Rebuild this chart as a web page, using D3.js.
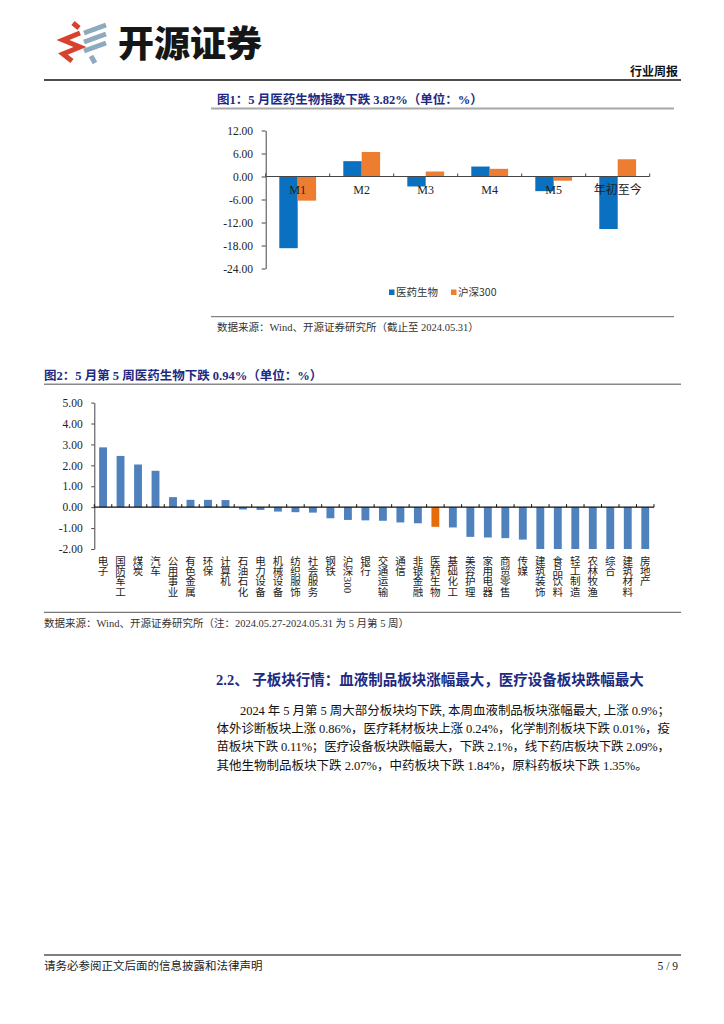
<!DOCTYPE html>
<html><head><meta charset="utf-8">
<script src="https://cdn.jsdelivr.net/npm/d3@7"></script>
<style>
body{margin:0;background:#fff;}
svg{display:block;}
</style>
</head><body>
<svg id="c" width="724" height="1024"></svg>
<script>
// ---------- data ----------
const fig1Categories = ["M1", "M2", "M3", "M4", "M5", "年初至今"];
const fig1Series = ["医药生物", "沪深300"];
const fig1Pharma = [-18.7, 4.0, -2.6, 2.6, -3.82, -13.7];
const fig1CSI300 = [-6.3, 6.4, 1.3, 2.0, -1.1, 4.5];
const fig1Ticks = [12, 6, 0, -6, -12, -18, -24];

const fig2Categories = ["电子","国防军工","煤炭","汽车","公用事业","有色金属","环保","计算机","石油石化","电力设备","机械设备","纺织服饰","社会服务","钢铁","沪深300","银行","交通运输","通信","非银金融","医药生物","基础化工","美容护理","家用电器","商贸零售","传媒","建筑装饰","食品饮料","轻工制造","农林牧渔","综合","建筑材料","房地产"];
const fig2Values = [2.86, 2.45, 2.04, 1.74, 0.48, 0.35, 0.35, 0.34, -0.11, -0.13, -0.21, -0.24, -0.26, -0.53, -0.61, -0.63, -0.65, -0.73, -0.77, -0.94, -0.97, -1.42, -1.45, -1.48, -1.55, -2.0, -2.0, -2.0, -2.0, -2.0, -2.0, -2.0];
const fig2Ticks = [5, 4, 3, 2, 1, 0, -1, -2];
const fig2Highlight = "医药生物";

const paraLines = [
  "2024 年 5 月第 5 周大部分板块均下跌, 本周血液制品板块涨幅最大, 上涨 0.9%；",
  "体外诊断板块上涨 0.86%，医疗耗材板块上涨 0.24%，化学制剂板块下跌 0.01%，疫",
  "苗板块下跌 0.11%；医疗设备板块跌幅最大，下跌 2.1%，线下药店板块下跌 2.09%，",
  "其他生物制品板块下跌 2.07%，中药板块下跌 1.84%，原料药板块下跌 1.35%。"
];

// ---------- styles ----------
const SERIF = "'Liberation Serif','Times New Roman','Noto Sans CJK SC',serif";
const CJK = "'Noto Sans CJK SC','Liberation Serif',sans-serif";
const NAVY = "#1c2a82";
const BLUE1 = "#0a70c0", ORANGE1 = "#ed7d31";
const BLUE2 = "#4f81bd", ORANGE2 = "#e46c0a";
const fmt = d => d.toFixed(2);

const svg = d3.select("#c");

// ---------- header ----------
const logo = svg.append("g");
logo.append("path").attr("d","M73,23 L79,28 M80,33 L63,40 L80,47 L63,54 L72,61")
  .attr("fill","none").attr("stroke","#d8412d").attr("stroke-width",5).attr("stroke-linejoin","miter");
logo.append("path").attr("d","M84,33 L106,25 M84,42 L106,34 M84,51 L106,43 M91,56 L95,63")
  .attr("fill","none").attr("stroke","#8eaabd").attr("stroke-width",5);
svg.append("text").attr("x",118).attr("y",57).attr("font-family",CJK).attr("font-weight",900)
  .attr("font-size",36).attr("fill","#161616").text("开源证券");
svg.append("text").attr("x",678).attr("y",76).attr("text-anchor","end").attr("font-family",CJK)
  .attr("font-weight",700).attr("font-size",12).attr("fill","#111").text("行业周报");
svg.append("line").attr("x1",44).attr("x2",681).attr("y1",80).attr("y2",80).attr("stroke","#111").attr("stroke-width",1.5);

// ---------- figure 1 ----------
svg.append("text").attr("x",217).attr("y",103.5).attr("font-family",SERIF).attr("font-weight",700)
  .attr("font-size",12.5).attr("fill",NAVY).text("图1：5 月医药生物指数下跌 3.82%（单位：%）");
svg.append("line").attr("x1",211).attr("x2",674).attr("y1",108.5).attr("y2",108.5).attr("stroke","#a8a8a8").attr("stroke-width",2);

const y1 = d3.scaleLinear().domain([-24, 12]).range([268.5, 130.5]);
const x1 = d3.scaleBand().domain(fig1Categories).range([265.7, 649.7]);
const xs1 = d3.scaleBand().domain(fig1Series).range([13.6, x1.bandwidth() - 13.6]);
const rows1 = fig1Categories.map((c, i) => ({c, vals: [fig1Pharma[i], fig1CSI300[i]]}));
const colors1 = [BLUE1, ORANGE1];

const g1 = svg.append("g");
g1.selectAll("g.grp").data(rows1).join("g").attr("class","grp")
  .attr("transform", d => `translate(${x1(d.c)},0)`)
  .selectAll("rect").data(d => d.vals.map((v, k) => ({v, k}))).join("rect")
  .attr("x", d => xs1(fig1Series[d.k])).attr("width", xs1.bandwidth())
  .attr("y", d => y1(Math.max(0, d.v))).attr("height", d => Math.abs(y1(d.v) - y1(0)))
  .attr("fill", d => colors1[d.k]);

const ax1 = g1.append("g").attr("transform","translate(265.7,0)")
  .call(d3.axisLeft(y1).tickValues(fig1Ticks).tickFormat(fmt).tickSize(4).tickSizeOuter(0).tickPadding(8.7));
ax1.selectAll("path,line").attr("stroke","#444");
ax1.selectAll("text").attr("font-family",SERIF).attr("font-size",11.5).attr("fill","#222");

const b1 = fig1Categories.map(c => x1(c)).concat([x1.range()[1]]);
g1.append("line").attr("x1",x1.range()[0]).attr("x2",x1.range()[1]).attr("y1",y1(0)).attr("y2",y1(0)).attr("stroke","#444").attr("stroke-width",1);
g1.selectAll("line.tk").data(b1).join("line").attr("class","tk")
  .attr("x1",d=>d).attr("x2",d=>d).attr("y1",y1(0)).attr("y2",y1(0)-3).attr("stroke","#444");
g1.selectAll("text.cat").data(fig1Categories).join("text").attr("class","cat")
  .attr("x", d => x1(d) + x1.bandwidth()/2).attr("y", 193.5).attr("text-anchor","middle")
  .attr("font-family",SERIF).attr("font-size",12).attr("fill","#222").text(d => d);

// legend
const leg = svg.append("g");
const legX = [389, 451];
fig1Series.forEach((s, k) => {
  leg.append("rect").attr("x",legX[k]).attr("y",289.5).attr("width",5.5).attr("height",5.5).attr("fill",colors1[k]);
  leg.append("text").attr("x",legX[k]+7).attr("y",296.2).attr("font-family",CJK).attr("font-size",10.5).attr("fill","#333").text(s);
});

svg.append("line").attr("x1",211).attr("x2",674).attr("y1",316.7).attr("y2",316.7).attr("stroke","#666").attr("stroke-width",1);
svg.append("text").attr("x",217).attr("y",330.5).attr("font-family",SERIF).attr("font-size",10.5).attr("fill","#333")
  .text("数据来源：Wind、开源证券研究所（截止至 2024.05.31）");

// ---------- figure 2 ----------
svg.append("text").attr("x",44).attr("y",379.5).attr("font-family",SERIF).attr("font-weight",700)
  .attr("font-size",12.5).attr("fill",NAVY).text("图2：5 月第 5 周医药生物下跌 0.94%（单位：%）");
svg.append("line").attr("x1",44).attr("x2",681).attr("y1",384.3).attr("y2",384.3).attr("stroke","#8a8a8a").attr("stroke-width",1.5);

const y2 = d3.scaleLinear().domain([-2, 5]).range([549, 402.6]).clamp(true);
const x2 = d3.scaleBand().domain(fig2Categories).range([94.3, 654]).paddingInner(0.55).paddingOuter(0.275);
const rows2 = fig2Categories.map((c, i) => ({c, v: fig2Values[i]}));
const g2 = svg.append("g");
g2.selectAll("rect").data(rows2).join("rect")
  .attr("x", d => x2(d.c)).attr("width", x2.bandwidth())
  .attr("y", d => y2(Math.max(0, d.v))).attr("height", d => Math.abs(y2(d.v) - y2(0)))
  .attr("fill", d => d.c === fig2Highlight ? ORANGE2 : BLUE2);

const ax2 = g2.append("g").attr("transform","translate(94.3,0)")
  .call(d3.axisLeft(y2).tickValues(fig2Ticks).tickFormat(fmt).tickSize(3).tickSizeOuter(0).tickPadding(8.6));
ax2.selectAll("path,line").attr("stroke","#444");
ax2.selectAll("text").attr("font-family",SERIF).attr("font-size",11.5).attr("fill","#222");

const step2 = x2.step();
const b2 = fig2Categories.map((c, i) => x2.range()[0] + i * step2).concat([x2.range()[1]]);
g2.append("line").attr("x1",x2.range()[0]).attr("x2",x2.range()[1]).attr("y1",y2(0)).attr("y2",y2(0)).attr("stroke","#111").attr("stroke-width",1.2);
g2.selectAll("line.tk").data(b2).join("line").attr("class","tk")
  .attr("x1",d=>d).attr("x2",d=>d).attr("y1",y2(0)).attr("y2",y2(0)-3).attr("stroke","#111");

// vertical stacked category labels (CJK upright, Latin runs rotated)
const LFS = 10.5, LSTEP = 10.4, LTOP = 555.5;
fig2Categories.forEach(c => {
  const cx = x2(c) + x2.bandwidth()/2;
  const lg = g2.append("g").attr("class","vlab");
  const tokens = c.match(/[A-Za-z0-9.]+|./g);
  let yy = LTOP;
  tokens.forEach(t => {
    if (/^[A-Za-z0-9.]+$/.test(t)) {
      const tt = lg.append("text").attr("font-family",SERIF).attr("font-size",LFS+0.5).attr("fill","#222")
        .attr("transform",`translate(${cx - 3.6},${yy + 0.5}) rotate(90)`).text(t);
      const w = tt.node().getComputedTextLength();
      yy += w + 1;
    } else {
      lg.append("text").attr("x",cx).attr("y",yy + LFS*0.86).attr("text-anchor","middle")
        .attr("font-family",SERIF).attr("font-size",LFS).attr("fill","#222").text(t);
      yy += LSTEP;
    }
  });
});

svg.append("line").attr("x1",44).attr("x2",681).attr("y1",612.3).attr("y2",612.3).attr("stroke","#555").attr("stroke-width",1);
svg.append("text").attr("x",44).attr("y",626.5).attr("font-family",SERIF).attr("font-size",10.5).attr("fill","#333")
  .text("数据来源：Wind、开源证券研究所（注：2024.05.27-2024.05.31 为 5 月第 5 周）");

// ---------- section text ----------
svg.append("text").attr("x",216).attr("y",685).attr("font-family",SERIF).attr("font-weight",700)
  .attr("font-size",14.5).attr("fill",NAVY).text("2.2、 子板块行情：血液制品板块涨幅最大，医疗设备板块跌幅最大");

const paraX = [240, 216.5, 216.5, 216.5];
const paraY = [714.5, 733, 751.3, 769.6];
const paraW = [430, 453.5, 453.5, null];
paraLines.forEach((t, i) => {
  const tx = svg.append("text").attr("x",paraX[i]).attr("y",paraY[i]).attr("font-family",SERIF)
    .attr("font-size",12.5).attr("fill","#111").text(t);
  if (paraW[i]) tx.attr("textLength",paraW[i]).attr("lengthAdjust","spacing");
});

// ---------- footer ----------
svg.append("line").attr("x1",44).attr("x2",681).attr("y1",955).attr("y2",955).attr("stroke","#555").attr("stroke-width",1.5);
svg.append("text").attr("x",44).attr("y",970).attr("font-family",CJK).attr("font-size",11.5).attr("fill","#222")
  .text("请务必参阅正文后面的信息披露和法律声明");
svg.append("text").attr("x",678).attr("y",970).attr("text-anchor","end").attr("font-family",SERIF).attr("font-size",11.5).attr("fill","#222")
  .text("5 / 9");
</script>
</body></html>
